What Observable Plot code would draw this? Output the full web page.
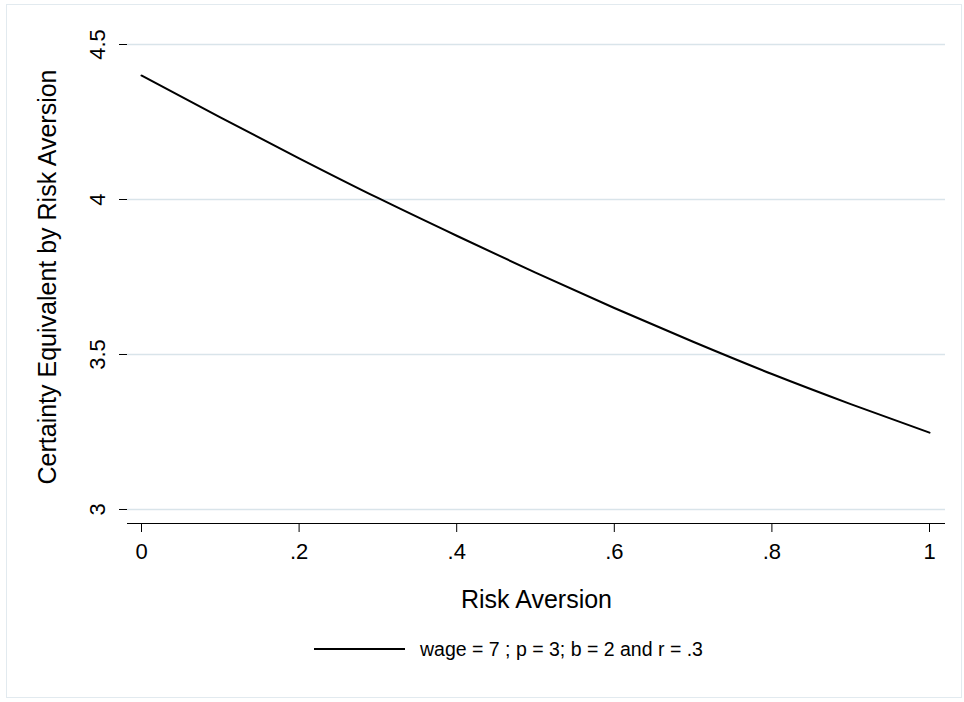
<!DOCTYPE html>
<html>
<head>
<meta charset="utf-8">
<script src="https://cdn.jsdelivr.net/npm/d3@7"></script>
<script src="https://cdn.jsdelivr.net/npm/@observablehq/plot@0.6"></script>
<style>
  html, body { margin: 0; padding: 0; background: #fff; width: 964px; height: 702px; overflow: hidden; }
  body { position: relative; font-family: "Liberation Sans", Arial, Helvetica, sans-serif; }
  #frame { position: absolute; left: 6px; top: 4px; width: 956px; height: 694px; border: 1px solid #e2eaef; box-sizing: border-box; }
  #chart { position: absolute; left: 0; top: 0; }
  #legend { position: absolute; left: 314px; top: 637px; height: 24px; display: flex; align-items: center; font-size: 19.5px; color: #000; }
  #legend .swatch { width: 91px; height: 0; border-top: 2px solid #000; margin-right: 15px; }
</style>
</head>
<body>
<div id="frame"></div>
<div id="chart"></div>
<div id="legend"><span class="swatch"></span><span id="legendText"></span></div>
<script>
// Data
const riskAversion = [0, 0.1, 0.2, 0.3, 0.4, 0.5, 0.6, 0.7, 0.8, 0.9, 1.0];
const certaintyEquivalent = [4.40, 4.265, 4.133, 4.005, 3.883, 3.764, 3.650, 3.541, 3.437, 3.340, 3.248];
const xTicks = [0, 0.2, 0.4, 0.6, 0.8, 1];
const xTickLabels = ["0", ".2", ".4", ".6", ".8", "1"];
const yTicks = [3, 3.5, 4, 4.5];
const yTickLabels = ["3", "3.5", "4", "4.5"];
const xTitle = "Risk Aversion";
const yTitle = "Certainty Equivalent by Risk Aversion";
const seriesLabel = "wage = 7 ; p = 3; b = 2 and r = .3";

const data = riskAversion.map((x, i) => ({x, y: certaintyEquivalent[i]}));
const xDomain = [-0.01777, 1.0203];
const yDomain = [2.9548, 4.5452];

const chart = Plot.plot({
  width: 964,
  height: 620,
  marginLeft: 127,
  marginRight: 19,
  marginTop: 30,
  marginBottom: 97,
  style: {fontFamily: '"Liberation Sans", Arial, Helvetica, sans-serif', fontSize: "22px", color: "#000", background: "transparent"},
  x: {domain: xDomain},
  y: {domain: yDomain},
  marks: [
    Plot.ruleY(yTicks, {stroke: "#d9e4ea", strokeWidth: 1.5}),
    Plot.ruleY([yDomain[0]], {stroke: "#000", strokeWidth: 1.2}),
    Plot.axisX({ticks: xTicks, tickFormat: (d) => xTickLabels[xTicks.indexOf(d)], tickSize: 9, tickPadding: 11, fontSize: 22, label: null, stroke: "#000"}),
    Plot.axisY({ticks: yTicks, tickFormat: () => "", tickSize: 8, tickPadding: 0, label: null, stroke: "#000"}),
    Plot.text(yTicks, {x: xDomain[0], y: (d) => d, text: (d) => yTickLabels[yTicks.indexOf(d)], rotate: -90, dx: -30, textAnchor: "middle", lineAnchor: "middle", fontSize: 22, fill: "#000"}),
    Plot.text([xTitle], {frameAnchor: "bottom", text: (d) => d, dy: 76, lineAnchor: "middle", fontSize: 25, fill: "#000"}),
    Plot.text([yTitle], {frameAnchor: "left", text: (d) => d, rotate: -90, dx: -80, lineAnchor: "middle", textAnchor: "middle", fontSize: 25, fill: "#000"}),
    Plot.line(data, {x: "x", y: "y", stroke: "#000", strokeWidth: 2, curve: "monotone-x"})
  ]
});
document.getElementById("chart").appendChild(chart);
document.getElementById("legendText").textContent = seriesLabel;
</script>
</body>
</html>
